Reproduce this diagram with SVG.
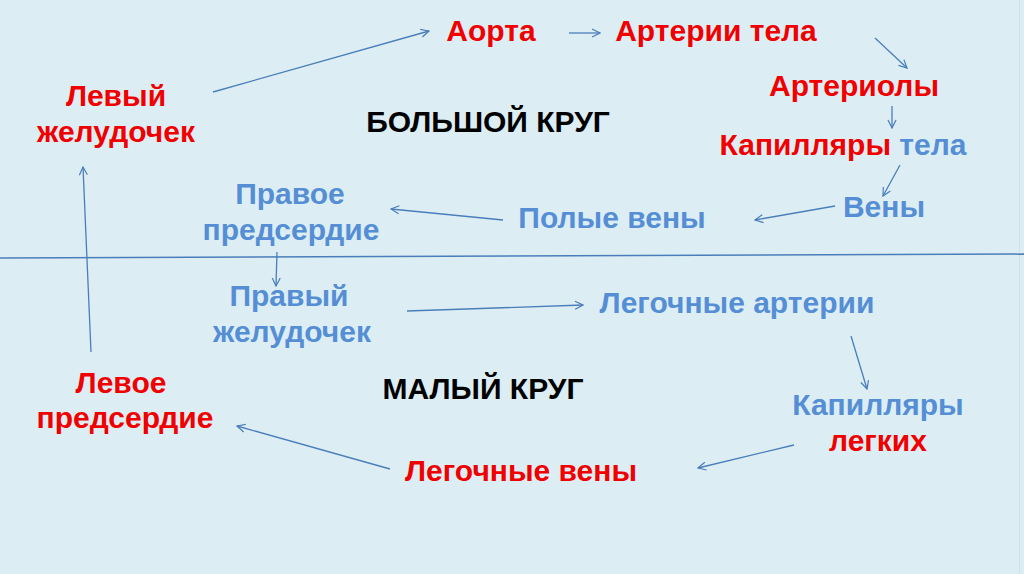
<svg xmlns="http://www.w3.org/2000/svg" width="1024" height="574" viewBox="0 0 1024 574">
<defs>
<marker id="ah" viewBox="0 0 10 10" refX="9" refY="5" markerWidth="10" markerHeight="10" markerUnits="userSpaceOnUse" orient="auto">
<path d="M1,1 L9,5 L1,9" fill="none" stroke="#4A7EBB" stroke-width="1.2"/>
</marker>
<style>
text{font-family:"Liberation Sans",Arial,sans-serif;font-weight:bold;font-size:30px;text-anchor:middle}
.r{fill:#F00000}
.b{fill:#558ED5}
.k{fill:#000000}
.c line{stroke:#4A7EBB;stroke-width:1.3;marker-end:url(#ah)}
</style>
</defs>
<rect width="1024" height="574" fill="#DCEEF4"/>
<line x1="1019.5" y1="0" x2="1019.5" y2="574" stroke="#CFE3EB" stroke-width="1"/>
<line x1="0" y1="258" x2="1024" y2="254" stroke="#4A7EBB" stroke-width="1.3"/>

<g id="n-levyi-zheludochek"><text class="r" x="116" y="106">Левый</text><text class="r" x="116" y="142">желудочек</text></g>
<g id="n-aorta"><text class="r" x="491" y="41">Аорта</text></g>
<g id="n-arterii-tela"><text class="r" x="716" y="41">Артерии тела</text></g>
<g id="n-arterioly"><text class="r" x="854" y="96">Артериолы</text></g>
<g id="n-kapillyary-tela"><text x="843" y="155"><tspan class="r">Капилляры</tspan> <tspan class="b">тела</tspan></text></g>
<g id="n-veny"><text class="b" x="884" y="217">Вены</text></g>
<g id="n-polye-veny"><text class="b" x="612" y="228">Полые вены</text></g>
<g id="n-pravoe-predserdie"><text class="b" x="290" y="204">Правое</text><text class="b" x="291" y="240">предсердие</text></g>
<g id="n-bolshoi"><text class="k" x="488" y="132">БОЛЬШОЙ КРУГ</text></g>
<g id="n-pravyi-zheludochek"><text class="b" x="289" y="306">Правый</text><text class="b" x="292" y="342">желудочек</text></g>
<g id="n-legochnye-arterii"><text class="b" x="737" y="313">Легочные артерии</text></g>
<g id="n-kapillyary-legkih"><text class="b" x="878" y="415">Капилляры</text><text class="r" x="878" y="451">легких</text></g>
<g id="n-legochnye-veny"><text class="r" x="521" y="481">Легочные вены</text></g>
<g id="n-levoe-predserdie"><text class="r" x="121" y="393">Левое</text><text class="r" x="125" y="428">предсердие</text></g>
<g id="n-malyi"><text class="k" x="483" y="399">МАЛЫЙ КРУГ</text></g>

<g id="connectors" class="c">
<line x1="213" y1="92" x2="429" y2="31"/>
<line x1="569" y1="33" x2="600" y2="33"/>
<line x1="875" y1="38" x2="907" y2="68"/>
<line x1="892" y1="106" x2="892" y2="128"/>
<line x1="900" y1="165" x2="883" y2="196"/>
<line x1="835" y1="206" x2="755" y2="220"/>
<line x1="503" y1="220" x2="391" y2="209"/>
<line x1="277" y1="252" x2="276" y2="286"/>
<line x1="407" y1="311" x2="583" y2="305"/>
<line x1="851" y1="336" x2="867" y2="389"/>
<line x1="794" y1="445" x2="698" y2="468"/>
<line x1="390" y1="469" x2="237" y2="426"/>
<line x1="91" y1="352" x2="83" y2="167"/>
</g>
</svg>
